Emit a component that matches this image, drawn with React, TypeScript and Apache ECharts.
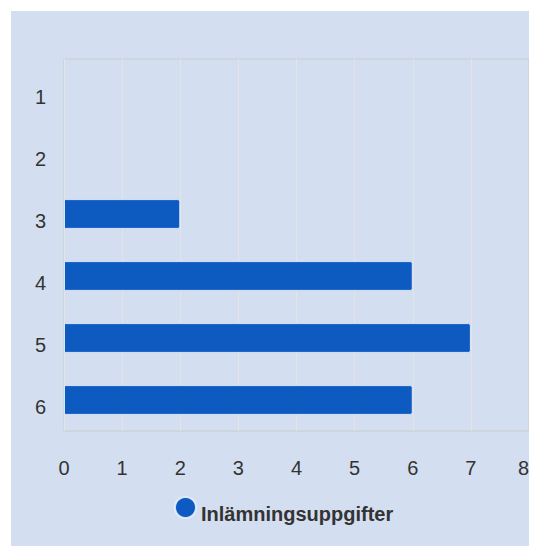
import React, { useEffect, useRef } from "react";
import * as echarts from "echarts";

const categories = ["1", "2", "3", "4", "5", "6"];
const values = [0, 0, 2, 6, 7, 6];
const seriesName = "Inlämningsuppgifter";
const xTicks = { min: 0, max: 8, interval: 1 };

const FONT = "Liberation Sans";

export default function App() {
  const ref = useRef<HTMLDivElement>(null);
  useEffect(() => {
    if (!ref.current) return;
    const chart = echarts.init(ref.current, null, { renderer: "svg" });
    chart.setOption({
      animation: false,
      backgroundColor: "#d3dff0",
      textStyle: { fontFamily: FONT },
      grid: {
        left: 53,
        right: 8,
        top: 48,
        bottom: 115,
        show: true,
        borderColor: "#cbcbcb",
        borderWidth: 1,
      },
      legend: {
        top: 480,
        left: 158,
        icon: "circle",
        itemWidth: 21,
        itemHeight: 21,
        itemGap: 10,
        formatter: "{a|{name}}",
        textStyle: {
          fontFamily: FONT,
          fontSize: 20,
          fontWeight: "bold",
          color: "#333",
          rich: {
            a: {
              fontFamily: FONT,
              fontSize: 20,
              fontWeight: "bold",
              color: "#333",
              padding: [12, 0, 0, 0],
            },
          },
        },
        data: [seriesName],
      },
      xAxis: {
        type: "value",
        min: xTicks.min,
        max: xTicks.max,
        interval: xTicks.interval,
        axisLine: { show: false },
        axisTick: { show: false },
        splitLine: { show: true, lineStyle: { color: "#e4e4e4", width: 1 } },
        axisLabel: {
          fontFamily: FONT,
          fontSize: 20,
          color: "#333",
          margin: 27,
          alignMaxLabel: "right",
        },
      },
      yAxis: {
        type: "category",
        data: categories,
        inverse: true,
        axisLine: { show: false },
        axisTick: { show: false },
        splitLine: { show: false },
        axisLabel: {
          fontFamily: FONT,
          fontSize: 20,
          color: "#333",
          margin: 18,
          formatter: "{a|{value}}",
          rich: {
            a: {
              fontFamily: FONT,
              fontSize: 20,
              color: "#333",
              padding: [14, 0, 0, 0],
            },
          },
        },
      },
      series: [
        {
          name: seriesName,
          type: "bar",
          data: values.map((v) => (v === 0 ? "-" : v)),
          barWidth: "48%",
          itemStyle: {
            color: "#0d5ac1",
            borderColor: "rgba(235,242,255,0.85)",
            borderWidth: 1,
            borderRadius: [0, 2, 2, 0],
          },
        },
      ],
    });
    return () => chart.dispose();
  }, []);
  return (
    <div
      ref={ref}
      style={{ width: 526, height: 535, marginLeft: 3, marginTop: 3 }}
    />
  );
}
